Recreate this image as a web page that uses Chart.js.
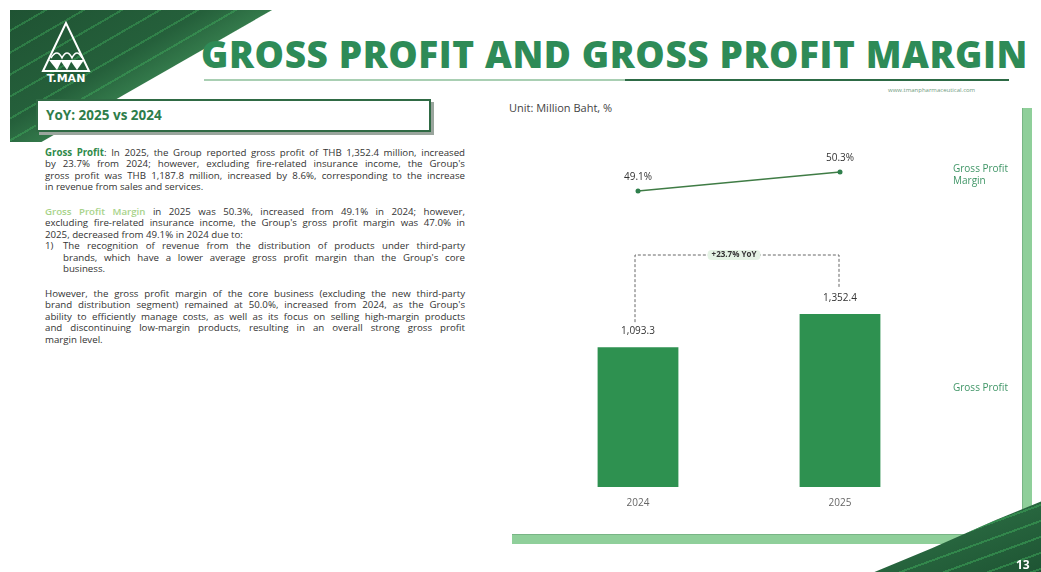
<!DOCTYPE html>
<html>
<head>
<meta charset="utf-8">
<script src="https://cdn.jsdelivr.net/npm/chart.js"></script>
<style>
body{margin:0;background:#fff;font-family:"Open Sans",sans-serif;}
#page{position:relative;width:1041px;height:572px;overflow:hidden;background:#fff;}
.abs{position:absolute;}
#panel{left:10px;top:10px;width:262px;height:132px;
clip-path:polygon(0 0,100% 0,12% 100%,0 100%);
background:
repeating-linear-gradient(150deg,rgba(0,0,0,0) 0 17px,rgba(70,190,100,.35) 17px 19px),
linear-gradient(150deg,#1f5333 0%,#25603b 40%,#3d8a55 62%,#9fd0ad 80%,#ffffff 95%);}
#swoosh{left:860px;top:492px;width:181px;height:80px;
clip-path:polygon(8% 100%,40% 70%,75% 35%,100% 12%,100% 100%);
background:
repeating-linear-gradient(160deg,rgba(0,0,0,0) 0 13px,rgba(70,190,100,.4) 13px 15px),
linear-gradient(160deg,#6fb383 0%,#2b6d43 35%,#1e5433 100%);}
#title{left:201px;top:31px;font-family:"Open Sans";font-weight:800;font-size:37px;color:#2e8b57;white-space:nowrap;line-height:46px;}
#rule1{left:204px;top:79px;width:422px;height:2px;background:#a9cfb3;}
#rule2{left:625px;top:79px;width:384px;height:2px;background:#2d6a45;}
#web{left:888px;top:86px;font-size:6px;color:#6f9a7e;white-space:nowrap;}
#yoy{left:36px;top:99px;width:391px;height:29px;background:#fff;border:2px solid #2f6a44;box-shadow:3px 3px 0 #9aa59d;}
#yoy span{position:absolute;left:8px;top:5px;font-size:13.5px;font-weight:700;color:#2e7d4a;}
#unit{left:509px;top:100px;font-size:11px;color:#444;}
.txt{position:absolute;font-size:9.7px;color:#333;line-height:11.4px;}
.txt div{white-space:nowrap;height:11.4px;}
.g1{color:#2f8a4a;font-weight:700;}
.g2{color:#a8d38a;font-weight:600;}
#rbar{left:1022px;top:108px;width:9px;height:435px;background:#8fcf9a;border-left:1px solid #78b585;}
#bbar{left:512px;top:534px;width:519px;height:9px;background:#8fcf9a;border-top:1px solid #78b585;}
#wrap{left:510px;top:120px;width:490px;height:400px;}
.side{position:absolute;font-size:10px;color:#3f9566;line-height:12px;}
#pnum{left:1016px;top:556px;font-size:12px;font-weight:700;color:#fff;}
</style>
</head>
<body>
<div id="page">
<div id="panel" class="abs"></div>
<svg class="abs" style="left:38px;top:20px" width="62" height="64" viewBox="0 0 62 64">
<polygon points="28,3 5,51 51,51" fill="none" stroke="#fff" stroke-width="2"/>
<path d="M13,38 Q19,28 24,38 Q29,28 34,38 Q39,28 44,38" fill="none" stroke="#fff" stroke-width="1.5"/>
<polygon points="11,40 19,50 24,40" fill="#fff"/>
<polygon points="22,40 29,50 34,40" fill="#fff"/>
<polygon points="32,40 39,50 46,40" fill="#fff"/>
<text x="28" y="62" text-anchor="middle" font-family="DejaVu Sans" font-weight="bold" font-size="11" fill="#fff">T.MAN</text>
</svg>
<div id="title" class="abs">GROSS PROFIT AND GROSS PROFIT MARGIN</div>
<div id="rule1" class="abs"></div>
<div id="rule2" class="abs"></div>
<div id="web" class="abs">www.tmanpharmaceutical.com</div>
<div id="yoy" class="abs"><span>YoY: 2025 vs 2024</span></div>
<div id="unit" class="abs">Unit: Million Baht, %</div>

<div class="txt" style="left:45px;top:147px;width:420px">
<div class="j"><span class="g1">Gross Profit</span>: In 2025, the Group reported gross profit of THB 1,352.4 million, increased</div>
<div class="j">by 23.7% from 2024; however, excluding fire-related insurance income, the Group's</div>
<div class="j">gross profit was THB 1,187.8 million, increased by 8.6%, corresponding to the increase</div>
<div>in revenue from sales and services.</div>
</div>
<div class="txt" style="left:45px;top:206px;width:420px">
<div class="j"><span class="g2">Gross Profit Margin</span> in 2025 was 50.3%, increased from 49.1% in 2024; however,</div>
<div class="j">excluding fire-related insurance income, the Group's gross profit margin was 47.0% in</div>
<div>2025, decreased from 49.1% in 2024 due to:</div>
</div>
<div class="txt" style="left:45px;top:240.2px">1)</div>
<div class="txt" style="left:63px;top:240.2px;width:402px">
<div class="j">The recognition of revenue from the distribution of products under third-party</div>
<div class="j">brands, which have a lower average gross profit margin than the Group's core</div>
<div>business.</div>
</div>
<div class="txt" style="left:45px;top:288px;width:420px">
<div class="j">However, the gross profit margin of the core business (excluding the new third-party</div>
<div class="j">brand distribution segment) remained at 50.0%, increased from 2024, as the Group's</div>
<div class="j">ability to efficiently manage costs, as well as its focus on selling high-margin products</div>
<div class="j">and discontinuing low-margin products, resulting in an overall strong gross profit</div>
<div>margin level.</div>
</div>

<div id="rbar" class="abs"></div>
<div id="bbar" class="abs"></div>
<div id="wrap" class="abs"><canvas id="chart"></canvas></div>
<div class="side" style="left:953px;top:162px">Gross Profit<br>Margin</div>
<div class="side" style="left:953px;top:381px">Gross Profit</div>
<div id="swoosh" class="abs"></div>
<div id="pnum" class="abs">13</div>
</div>

<script>
const years=["2024","2025"]
const grossProfit=[1093.3,1352.4]
const grossMargin=[49.1,50.3]
const profitLabels=["1,093.3","1,352.4"]
const marginLabels=["49.1%","50.3%"]
const yoyText="+23.7% YoY"

// justify the body text lines by hand
document.querySelectorAll(".txt .j").forEach(function(el){
const w=el.parentElement.clientWidth
const probe=document.createElement("span")
probe.innerHTML=el.innerHTML
el.innerHTML=""
el.appendChild(probe)
const natural=probe.getBoundingClientRect().width
const spaces=(probe.textContent.match(/ /g)||[]).length
if(spaces)el.style.wordSpacing=((w-natural)/spaces)+"px"
})

// stretch the title to its width in the slide
const title=document.getElementById("title")
const tw=title.getBoundingClientRect().width
const n=title.textContent.length
title.style.letterSpacing=((827-tw)/n)+"px"

const labelPlugin={
id:"labels",
afterDatasetsDraw(chart){
const ctx=chart.ctx
const bars=chart.getDatasetMeta(0).data
const pts=chart.getDatasetMeta(1).data
ctx.save()
ctx.textAlign="center"
ctx.textBaseline="middle"
ctx.fillStyle="#333"
ctx.font='10px "Open Sans"'
bars.forEach(function(b,i){ctx.fillText(profitLabels[i],b.x,b.y-16)})
pts.forEach(function(p,i){ctx.fillText(marginLabels[i],p.x,p.y-13.5)})

// yoy bracket
const x1=bars[0].x-3
const x2=bars[1].x-1
const top=Math.min(bars[0].y,bars[1].y)-59
ctx.strokeStyle="#666"
ctx.lineWidth=1
ctx.setLineDash([3,2])
ctx.beginPath()
ctx.moveTo(x1,bars[0].y-25)
ctx.lineTo(x1,top)
ctx.lineTo(x2,top)
ctx.lineTo(x2,bars[1].y-27)
ctx.stroke()
ctx.setLineDash([])
const cx=(x1+x2)/2-3
ctx.font='bold 8px "Open Sans"'
const tw=ctx.measureText(yoyText).width
ctx.fillStyle="#e4f3e4"
ctx.beginPath()
ctx.roundRect(cx-tw/2-4,top-5,tw+8,10,4)
ctx.fill()
ctx.fillStyle="#333"
ctx.fillText(yoyText,cx,top)
ctx.restore()
}
}

new Chart(document.getElementById("chart"),{
type:"bar",
data:{
labels:years,
datasets:[{
label:"Gross Profit",
data:grossProfit,
backgroundColor:"#2e9150",
yAxisID:"yBar",
categoryPercentage:0.4,
barPercentage:1,
order:2
},{
type:"line",
label:"Gross Profit Margin",
data:grossMargin,
borderColor:"#3f7c45",
backgroundColor:"#2f7f4c",
borderWidth:1.5,
pointRadius:2.5,
pointBorderWidth:0,
yAxisID:"yLine",
order:1
}]
},
options:{
responsive:true,
maintainAspectRatio:false,
animation:false,
layout:{padding:{left:27,right:59,top:10,bottom:1}},
plugins:{legend:{display:false},tooltip:{enabled:false}},
scales:{
x:{
grid:{display:false,drawTicks:false},
border:{display:false},
ticks:{color:"#666",font:{family:"Open Sans",size:10},padding:10}
},
yBar:{display:false,min:0,max:2791},
yLine:{display:false,min:30.4,max:52.95}
}
},
plugins:[labelPlugin]
})
</script>
</body>
</html>
